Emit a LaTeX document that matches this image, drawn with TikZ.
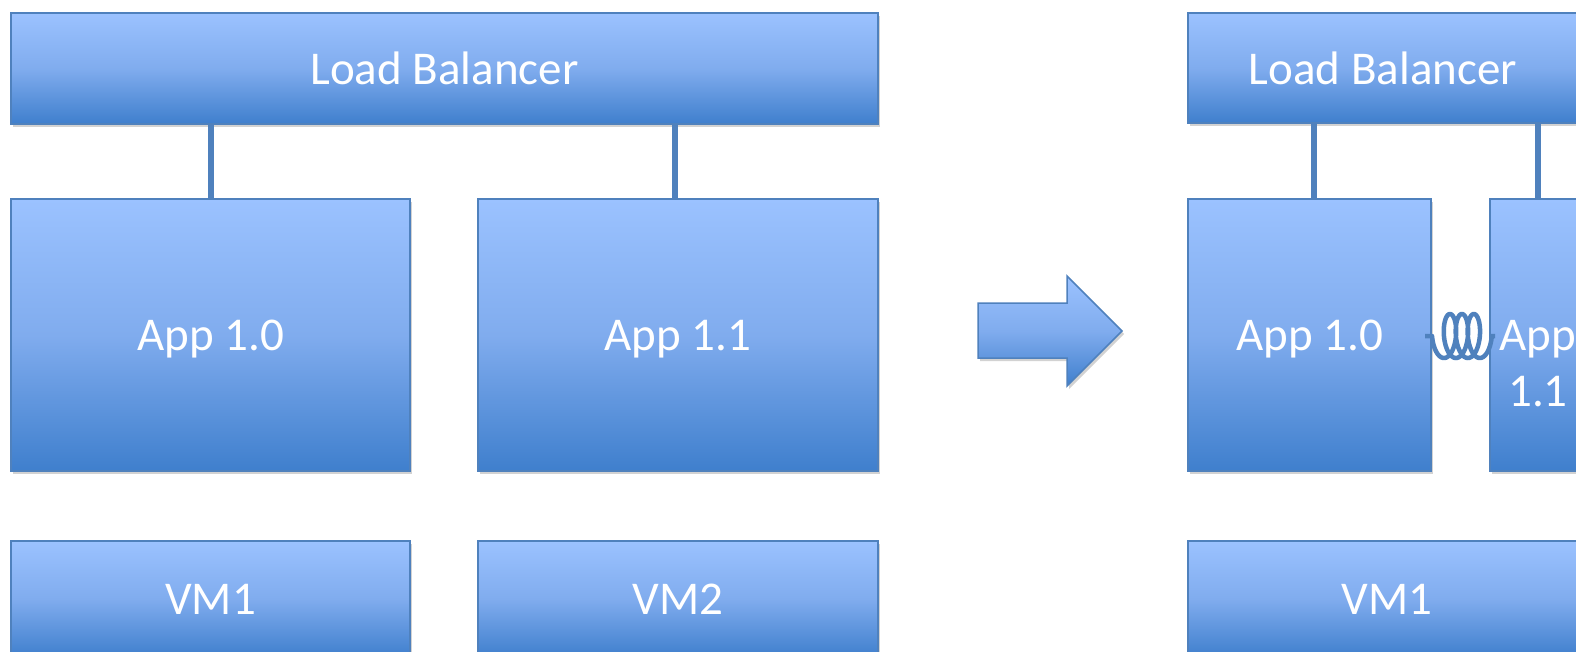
\documentclass[tikz,border=0pt]{standalone}
\usepackage{fontspec}
\setmainfont{Carlito}
\usetikzlibrary{shadows,calc}
\definecolor{boxtop}{RGB}{155,194,255}
\definecolor{boxmid}{RGB}{128,172,238}
\definecolor{boxbot}{RGB}{63,127,205}
\definecolor{boxline}{RGB}{79,129,189}
\tikzset{
  shade3/.style={top color=boxtop, bottom color=boxbot, middle color=boxmid},
  blk/.style={draw=boxline, line width=2pt, shade3, anchor=north west,
    inner sep=0pt, outer sep=0pt, text=white, text depth=0pt, font=\fontsize{47}{56}\selectfont,
    drop shadow={shadow xshift=2pt, shadow yshift=-3pt, opacity=0.25, fill=black!70}},
  link/.style={draw=boxline, line width=6pt},
  springline/.style={draw=boxline, line width=4.5pt, line join=round},
  bigarrow/.style={draw=boxline, line width=1.5pt, shade3,
    drop shadow={shadow xshift=2pt, shadow yshift=-3pt, opacity=0.25, fill=black!70}},
}
\begin{document}
\begin{tikzpicture}[x=1pt,y=-1pt]
\useasboundingbox (0,0) rectangle (1576,651);
\clip (0,0) rectangle (1576,651);
\fill[white] (0,0) rectangle (1576,651);
% left state
\node[blk, minimum width=867pt, minimum height=111pt] (lbL) at (11,13) {Load Balancer};
\node[blk, minimum width=399pt, minimum height=272pt] (appA) at (11,199) {App 1.0};
\node[blk, minimum width=400pt, minimum height=272pt] (appB) at (478,199) {App 1.1};
\node[blk, minimum width=399pt, minimum height=116pt] (vmA) at (11,541) {VM1};
\node[blk, minimum width=400pt, minimum height=116pt] (vmB) at (478,541) {VM2};
\draw[link] (appA.north |- lbL.south) -- (appA.north);
\draw[link] ([xshift=-3pt]appB.north |- lbL.south) -- ([xshift=-3pt]appB.north);
% transition arrow
\path[bigarrow] (978,303) -- (1067,303) -- (1067,276) -- (1122,331) -- (1067,386) -- (1067,358) -- (978,358) -- cycle;
% right state
\node[blk, minimum width=390pt, minimum height=110pt] (lbR) at (1188,13) {Load Balancer};
\node[blk, minimum width=243pt, minimum height=272pt] (appC) at (1188,199) {App 1.0};
\node[blk, minimum width=96pt, minimum height=272pt, text width=92pt, align=center] (appD) at (1490,199) {App 1.1};
\node[blk, minimum width=398pt, minimum height=116pt] (vmC) at (1188,541) {VM1};
\draw[link] ([xshift=4.5pt]appC.north |- lbR.south) -- ([xshift=4.5pt]appC.north);
\draw[link] (appD.north |- lbR.south) -- (appD.north);
% coupling spring between App 1.0 and App 1.1
\begin{scope}[shift={(appC.east)}]
\draw[springline] (-6,1) -- plot[domain=180:1440, samples=300, variable=\t]
  ({4.03 + 1.9*\t*0.0174533 + 9*cos(\t)}, {1-22*sin(\t)}) -- ([xshift=5pt,yshift=-1pt]appD.west);
\end{scope}
\end{tikzpicture}
\end{document}
